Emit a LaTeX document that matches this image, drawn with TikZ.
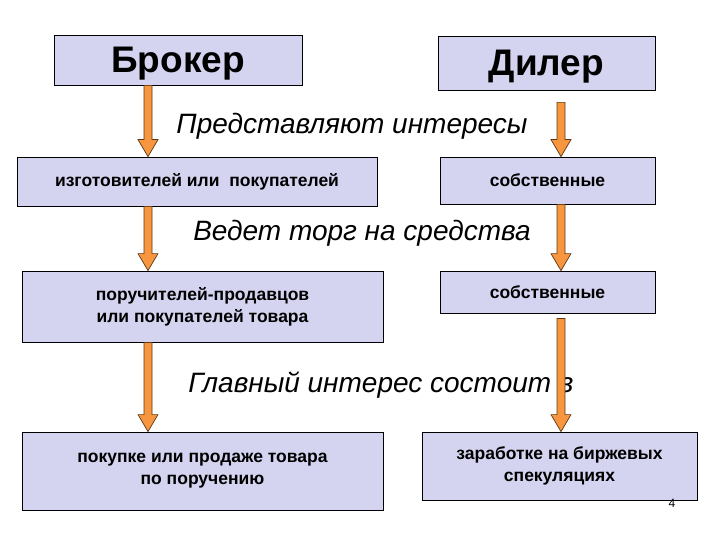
\documentclass[tikz,border=0pt]{standalone}
\usepackage{fontspec}
\setmainfont{Liberation Sans}
\usetikzlibrary{calc}
\definecolor{cbox}{HTML}{D4D4F0}
\definecolor{corange}{HTML}{F7963E}
\definecolor{cedge}{HTML}{5A3818}
\tikzset{
  every picture/.style={line width=0.8pt},
  box/.style={draw=black, fill=cbox, align=center, inner sep=4pt, font=\fontsize{17.5}{22}\selectfont\bfseries},
  head/.style={box, text depth=0pt, font=\fontsize{37}{40}\selectfont\bfseries},
  phrase/.style={font=\fontsize{28}{32}\selectfont\itshape},
  orarrow/.style={draw=cedge, fill=corange, line width=0.7pt, line join=miter},
}
\newcommand{\blockarr}[2]{%
  \draw[orarrow] let \p1=(#1), \p2=(#2) in
    (\x1-4pt,\y1) -- (\x1+4pt,\y1) -- (\x1+4pt,\y2+17pt) -- (\x1+10pt,\y2+17pt)
    -- (\x1,\y2) -- (\x1-10pt,\y2+17pt) -- (\x1-4pt,\y2+17pt) -- cycle;}

\begin{document}
\begin{tikzpicture}[x=1pt, y=-1pt]
  \useasboundingbox (0,0) rectangle (720,540);
  \coordinate (colL) at (148,0);
  \coordinate (colR) at (561,0);

  % top row
  \node[head, minimum width=248pt, minimum height=50pt] (brok) at (178,60) {Брокер};
  \node[head, minimum width=217pt, minimum height=54pt] (dil) at (546.5,63) {Дилер};

  % boxes
  \node[box, minimum width=360pt, minimum height=49pt] (izg) at (197,181.5) {изготовителей или\ \ покупателей};
  \node[box, minimum width=215pt, minimum height=47pt] (sob1) at (547.5,180.5) {собственные};
  \node[box, minimum width=361pt, minimum height=71pt] (por) at (202.5,306.5) {поручителей-продавцов\\или покупателей товара};
  \node[box, minimum width=215pt, minimum height=42pt] (sob2) at (547.5,292) {собственные};
  \node[box, minimum width=361pt, minimum height=78pt] (pok) at (202.5,471) {покупке или продаже товара\\по поручению};
  \node[box, minimum width=275pt, minimum height=68pt] (zar) at (559.5,466) {заработке на биржевых\\спекуляциях};

  % phrases
  \node[phrase] (ph1) at (352,126) {Представляют интересы};
  \node[phrase] (ph2) at (362,233) {Ведет торг на средства};
  \node[phrase] (ph3) at (381,385) {Главный интерес состоит в};
  \node[font=\fontsize{12}{14}\selectfont] (pnum) at (672,503) {4};

  % arrows
  \blockarr{brok.south -| colL}{izg.north -| colL}
  \blockarr{[yshift=-12pt]dil.south -| colR}{sob1.north -| colR}
  \blockarr{izg.south -| colL}{por.north -| colL}
  \blockarr{sob1.south -| colR}{sob2.north -| colR}
  \blockarr{por.south -| colL}{pok.north -| colL}
  \blockarr{[yshift=-5pt]sob2.south -| colR}{zar.north -| colR}
\end{tikzpicture}
\end{document}
